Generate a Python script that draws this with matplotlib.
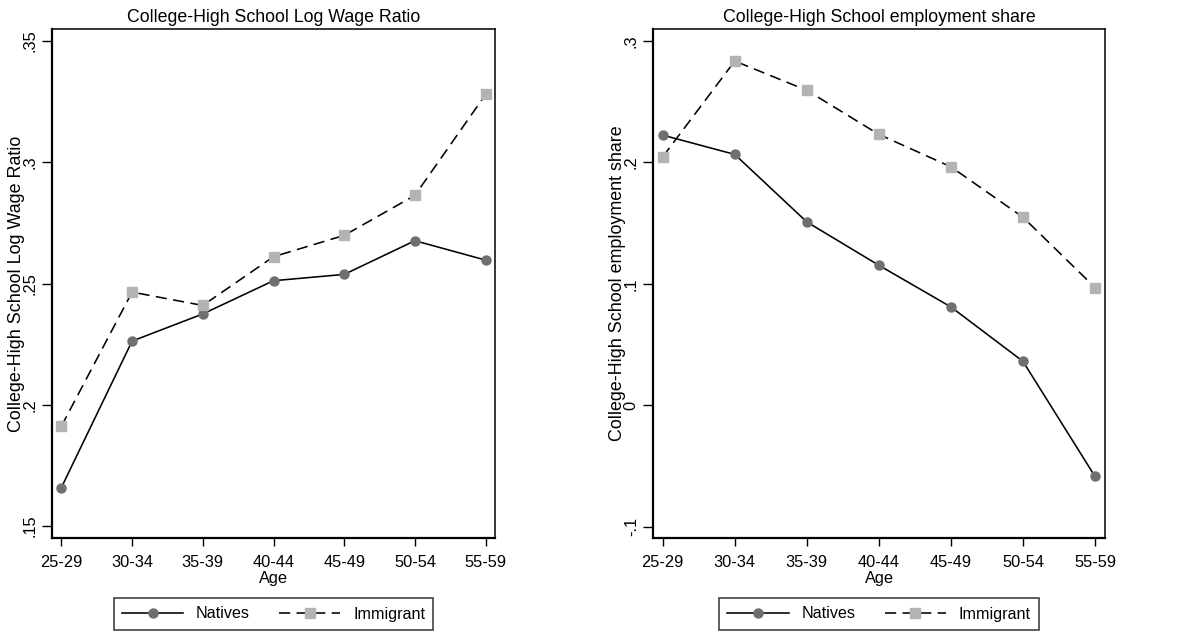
import matplotlib
matplotlib.use("Agg")
import matplotlib.pyplot as plt
from matplotlib.lines import Line2D

plt.rcParams['font.family'] = ['Liberation Sans', 'DejaVu Sans']

age_groups = ["25-29", "30-34", "35-39", "40-44", "45-49", "50-54", "55-59"]

wage_natives = [0.1659, 0.2263, 0.2375, 0.2512, 0.2538, 0.2677, 0.2597]
wage_immigrant = [0.1912, 0.2465, 0.2410, 0.2611, 0.2699, 0.2864, 0.3280]

emp_natives = [0.2225, 0.2066, 0.1510, 0.1153, 0.0810, 0.0362, -0.0586]
emp_immigrant = [0.2046, 0.2835, 0.2594, 0.2231, 0.1964, 0.1549, 0.0970]

wage_ticks = [0.15, 0.2, 0.25, 0.3, 0.35]
wage_ticklabels = [".15", ".2", ".25", ".3", ".35"]
emp_ticks = [-0.1, 0.0, 0.1, 0.2, 0.3]
emp_ticklabels = ["-.1", "0", ".1", ".2", ".3"]

W, H = 1188, 636
fig = plt.figure(figsize=(W / 100, H / 100), dpi=100)

NAT_MC = "#6f6f6f"
IMM_MC = "#b3b3b3"
TICK_FS = 11.8


def make_panel(rect, title, natives, immigrant, ticks, ticklabels, ylim, xlim):
    l, t, r, b = rect
    ax = fig.add_axes([l / W, 1 - b / H, (r - l) / W, (b - t) / H])
    x = list(range(1, len(age_groups) + 1))
    ax.plot(x, natives, color="black", lw=1.15, marker="o", ms=6.5,
            mfc=NAT_MC, mec=NAT_MC, label="Natives", zorder=3)
    ax.plot(x, immigrant, color="black", lw=1.15, dashes=[7, 4], marker="s", ms=6.6,
            mfc=IMM_MC, mec=IMM_MC, label="Immigrant", zorder=3)
    ax.set_xlim(*xlim)
    ax.set_ylim(*ylim)
    ax.set_xticks(x)
    ax.set_xticklabels(age_groups, fontsize=TICK_FS)
    ax.set_yticks(ticks)
    ax.set_yticklabels(ticklabels, fontsize=TICK_FS, rotation=90, va="center")
    ax.tick_params(axis="x", length=6, width=1.0, pad=6)
    ax.tick_params(axis="y", length=7, width=1.0, pad=3)
    for s in ax.spines.values():
        s.set_linewidth(1.1)
    ax.spines["bottom"].set_linewidth(1.6)
    ax.spines["left"].set_linewidth(1.6)
    ax.set_title(title, fontsize=12.8, pad=5)
    ax.set_xlabel("Age", fontsize=TICK_FS, labelpad=1)
    ax.set_ylabel(title, fontsize=12.9, labelpad=-1.5)
    handles = [
        Line2D([], [], color="black", lw=1.15, marker="o", ms=6.5, mfc=NAT_MC, mec=NAT_MC),
        Line2D([], [], color="black", lw=1.15, dashes=[7, 4], marker="s", ms=6.6, mfc=IMM_MC, mec=IMM_MC),
    ]
    cx = ((l + r) / 2) / W
    leg = fig.legend(handles, ["Natives", "Immigrant"], loc="center",
                     bbox_to_anchor=(cx, 1 - 614 / H), ncol=2, fontsize=11.6,
                     frameon=True, fancybox=False, edgecolor="black",
                     handlelength=3.8, columnspacing=1.8, handletextpad=0.8,
                     borderpad=0.5, borderaxespad=0)
    leg.get_frame().set_linewidth(1.1)
    return ax


make_panel((51.7, 29, 495.3, 538), "College-High School Log Wage Ratio",
           wage_natives, wage_immigrant, wage_ticks, wage_ticklabels,
           (0.1451, 0.355), (0.863, 7.137))
make_panel((652.7, 29, 1105.3, 538), "College-High School employment share",
           emp_natives, emp_immigrant, emp_ticks, emp_ticklabels,
           (-0.1093, 0.3099), (0.861, 7.143))

fig.savefig("out.png", dpi=100, facecolor="white")
